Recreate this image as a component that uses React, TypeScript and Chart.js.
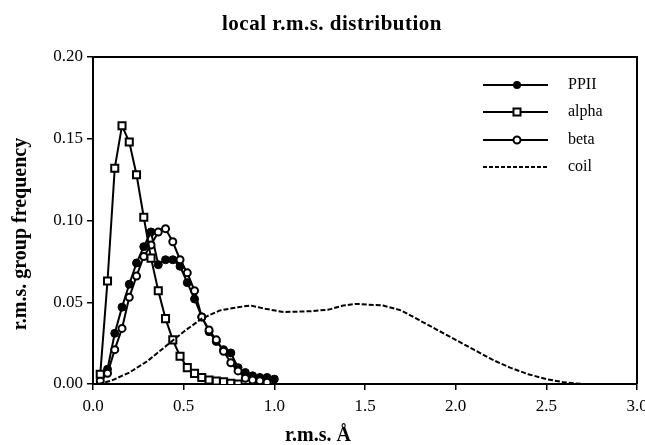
import React, { useEffect, useRef } from "react";
import { Chart, registerables } from "chart.js";

Chart.register(...registerables);

// ---- data ----
const binX = [
  0.04, 0.08, 0.12, 0.16, 0.2, 0.24, 0.28, 0.32, 0.36, 0.4, 0.44, 0.48, 0.52,
  0.56, 0.6, 0.64, 0.68, 0.72, 0.76, 0.8, 0.84, 0.88, 0.92, 0.96, 1.0,
];
const ppii = [
  0.0, 0.009, 0.031, 0.047, 0.061, 0.074, 0.084, 0.093, 0.073, 0.076, 0.076,
  0.072, 0.062, 0.052, 0.041, 0.032, 0.026, 0.021, 0.019, 0.01, 0.007, 0.005,
  0.004, 0.004, 0.003,
];
const alpha = [
  0.006, 0.063, 0.132, 0.158, 0.148, 0.128, 0.102, 0.077, 0.057, 0.04, 0.027,
  0.017, 0.01, 0.0065, 0.004, 0.0025, 0.0018, 0.0014, 0.0005, 0.0,
];
const beta = [
  0.002, 0.0065, 0.021, 0.034, 0.053, 0.066, 0.078, 0.085, 0.093, 0.095,
  0.087, 0.076, 0.068, 0.057, 0.041, 0.033, 0.027, 0.02, 0.013, 0.008, 0.0035,
  0.0024, 0.002, 0.001,
];
const coilX = [
  0.03, 0.1, 0.2, 0.3, 0.4, 0.5, 0.6, 0.7, 0.8, 0.87, 0.95, 1.05, 1.2, 1.3,
  1.38, 1.45, 1.6, 1.7, 1.8, 1.9, 2.0, 2.1, 2.2, 2.3, 2.4, 2.5, 2.6, 2.7,
];
const coil = [
  0.0, 0.002, 0.007, 0.014, 0.023, 0.032, 0.04, 0.045, 0.047, 0.048, 0.046,
  0.044, 0.0445, 0.0455, 0.048, 0.049, 0.048, 0.045, 0.039, 0.033, 0.027,
  0.021, 0.015, 0.01, 0.006, 0.003, 0.001, 0.0,
];
const xTicks = [0, 0.5, 1.0, 1.5, 2.0, 2.5, 3.0];
const yTicks = [0, 0.05, 0.1, 0.15, 0.2];

const titleText = "local r.m.s. distribution";
const xTitle = "r.m.s. Å";
const yTitle = "r.m.s. group frequency";
const seriesNames = ["PPII", "alpha", "beta", "coil"];

const SERIF = '"Liberation Serif", "Times New Roman", serif';

const pts = (xs: number[], ys: number[]) =>
  ys.map((y, i) => ({ x: xs[i], y }));

const decorPlugin = {
  id: "decor",
  afterDraw(chart: any) {
    const { ctx, chartArea } = chart;
    ctx.save();
    // frame top and right
    ctx.strokeStyle = "#000";
    ctx.lineWidth = 2;
    ctx.beginPath();
    ctx.moveTo(chartArea.left, chartArea.top);
    ctx.lineTo(chartArea.right, chartArea.top);
    ctx.lineTo(chartArea.right, chartArea.bottom);
    ctx.stroke();

    ctx.fillStyle = "#000";
    ctx.textBaseline = "middle";
    ctx.textAlign = "center";
    // title
    ctx.font = `bold 21px ${SERIF}`;
    try {
      (ctx as any).letterSpacing = "0.5px";
    } catch (e) {}
    ctx.fillText(titleText, 332, 25);
    try {
      (ctx as any).letterSpacing = "0px";
    } catch (e) {}
    // x title
    ctx.font = `bold 20px ${SERIF}`;
    ctx.fillText(xTitle, 318, 436);
    // y title
    ctx.save();
    ctx.translate(21, 234);
    ctx.rotate(-Math.PI / 2);
    ctx.fillText(yTitle, 0, 0);
    ctx.restore();

    // legend
    const rows = [85, 112, 140, 167];
    const x0 = 483;
    const x1 = 548;
    const mx = 517;
    ctx.font = `16px ${SERIF}`;
    ctx.textAlign = "left";
    rows.forEach((ry, i) => {
      ctx.strokeStyle = "#000";
      ctx.lineWidth = 2;
      ctx.setLineDash(i === 3 ? [4, 2] : []);
      ctx.beginPath();
      ctx.moveTo(x0, ry);
      ctx.lineTo(x1, ry);
      ctx.stroke();
      ctx.setLineDash([]);
      if (i === 0) {
        ctx.beginPath();
        ctx.arc(mx, ry, 4, 0, Math.PI * 2);
        ctx.fill();
      } else if (i === 1) {
        ctx.fillStyle = "#fff";
        ctx.fillRect(mx - 3.5, ry - 3.5, 7, 7);
        ctx.fillStyle = "#000";
        ctx.strokeRect(mx - 3.5, ry - 3.5, 7, 7);
      } else if (i === 2) {
        ctx.beginPath();
        ctx.arc(mx, ry, 3.5, 0, Math.PI * 2);
        ctx.fillStyle = "#fff";
        ctx.fill();
        ctx.fillStyle = "#000";
        ctx.stroke();
      }
      ctx.fillText(seriesNames[i], 568, ry);
    });
    ctx.restore();
  },
};

export default function App() {
  const ref = useRef<HTMLCanvasElement | null>(null);
  useEffect(() => {
    if (!ref.current) return;
    const chart = new Chart(ref.current, {
      type: "scatter",
      data: {
        datasets: [
          {
            label: seriesNames[3],
            data: pts(coilX, coil),
            showLine: true,
            borderColor: "#000",
            borderWidth: 2,
            borderDash: [5, 2],
            pointRadius: 0,
          },
          {
            label: seriesNames[1],
            data: pts(binX, alpha),
            showLine: true,
            borderColor: "#000",
            borderWidth: 2,
            pointStyle: "rect",
            pointRadius: 5,
            pointBorderWidth: 2,
            pointBackgroundColor: "#fff",
            pointBorderColor: "#000",
          },
          {
            label: seriesNames[2],
            data: pts(binX, beta),
            showLine: true,
            borderColor: "#000",
            borderWidth: 2,
            pointStyle: "circle",
            pointRadius: 3.5,
            pointBorderWidth: 2,
            pointBackgroundColor: "#fff",
            pointBorderColor: "#000",
          },
          {
            label: seriesNames[0],
            data: pts(binX, ppii),
            showLine: true,
            borderColor: "#000",
            borderWidth: 2,
            pointStyle: "circle",
            pointRadius: 4,
            pointBorderWidth: 1,
            pointBackgroundColor: "#000",
            pointBorderColor: "#000",
          },
        ],
      },
      options: {
        animation: false,
        responsive: false,
        maintainAspectRatio: false,
        layout: { padding: { top: 57, right: 8, left: 0, bottom: 0 } },
        plugins: {
          legend: { display: false },
          title: { display: false },
          tooltip: { enabled: false },
        },
        scales: {
          x: {
            type: "linear",
            min: 0,
            max: 3,
            afterBuildTicks: (s: any) => {
              s.ticks = xTicks.map((v) => ({ value: v }));
            },
            ticks: {
              callback: (v: any) => Number(v).toFixed(1),
              color: "#000",
              font: { family: SERIF, size: 17 },
              padding: 6,
              maxRotation: 0,
            },
            grid: {
              drawOnChartArea: false,
              drawTicks: true,
              tickLength: 6,
              color: "#000",
              lineWidth: 1.5,
            },
            border: { display: true, color: "#000", width: 2 },
            afterFit: (s: any) => {
              s.height = 61;
              s.paddingLeft = 0;
              s.paddingRight = 0;
            },
          },
          y: {
            type: "linear",
            min: 0,
            max: 0.2,
            afterBuildTicks: (s: any) => {
              s.ticks = yTicks.map((v) => ({ value: v }));
            },
            ticks: {
              callback: (v: any) => Number(v).toFixed(2),
              color: "#000",
              font: { family: SERIF, size: 17 },
              padding: 4,
            },
            grid: {
              drawOnChartArea: false,
              drawTicks: true,
              tickLength: 6,
              color: "#000",
              lineWidth: 1.5,
            },
            border: { display: true, color: "#000", width: 2 },
            afterFit: (s: any) => {
              s.width = 93;
            },
          },
        },
      },
      plugins: [decorPlugin],
    });
    return () => chart.destroy();
  }, []);
  return (
    <div style={{ position: "absolute", left: 0, top: 0, width: 645, height: 445, background: "#fff" }}>
      <canvas ref={ref} width={645} height={445} style={{ width: 645, height: 445 }} />
    </div>
  );
}
